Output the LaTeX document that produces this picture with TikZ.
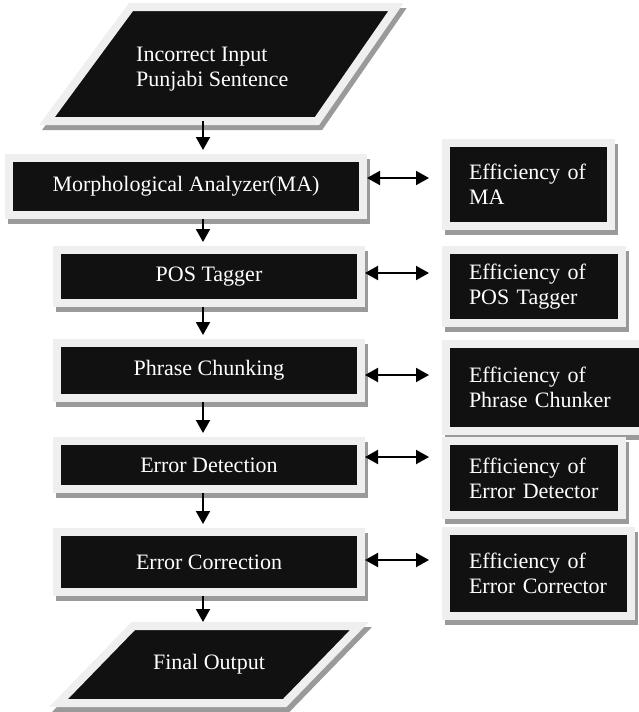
\documentclass[tikz,border=0pt]{standalone}
\usepackage{fontspec}
\setmainfont{Liberation Serif}
\usetikzlibrary{arrows.meta,shadows,calc}
\definecolor{boxblack}{HTML}{111111}
\definecolor{framegray}{HTML}{EFEFEF}
\definecolor{shadowgray}{HTML}{9A9A9A}
\begin{document}
\begin{tikzpicture}[x=1pt,y=-1pt,
  >={Triangle[length=13pt,width=14pt]},
  every node/.style={font=\fontsize{22}{25}\selectfont, text=white},
  panel/.style={draw=framegray, line width=8pt, fill=boxblack, inner sep=0pt,
    drop shadow={shadow xshift=3pt, shadow yshift=-5pt, opacity=1,
      fill=shadowgray, draw=shadowgray, line width=8pt}},
  stage/.style={panel, minimum width=304pt},
  gauge/.style={panel, align=left},
  flow/.style={line width=2pt, ->, shorten >=4pt},
  biflow/.style={line width=2pt, <->, shorten >=13pt}]

\useasboundingbox (0,0) rectangle (639,712);
\clip (0,0) rectangle (639,712);

% vertical spine of the main flow
\coordinate (spine) at (203,0);

% input parallelogram
\path[panel] (131,7) -- (396,7) -- (317,121) -- (47,121) -- cycle;
\node[anchor=west, align=left, inner sep=0pt] (input) at (136,69)
  {Incorrect Input\\Punjabi Sentence};
\coordinate (inbase) at (203,121);

% processing stages and their efficiency blocks
\node[panel, minimum width=354pt, minimum height=57pt] (ma) at (186,186.5)
  {Morphological Analyzer(MA)};
\node[gauge, minimum width=165pt, minimum height=83pt, text width=119pt] (effma)
  at (528.5,184.5) {Efficiency of\\MA};

\node[stage, minimum height=53pt] (pos) at (209,276.5) {POS Tagger};
\node[gauge, minimum width=176pt, minimum height=73pt, text width=130pt] (effpos)
  at (534,286.5) {Efficiency of\\POS Tagger};

\node[stage, minimum height=55pt] (chunk) at (209,370.5) {Phrase Chunking};
\node[gauge, minimum width=208pt, minimum height=87pt, text width=162pt] (effchunk)
  at (550,387.5) {Efficiency of\\Phrase Chunker};

\node[stage, minimum height=48pt] (detect) at (209,465) {Error Detection};
\node[gauge, minimum width=176pt, minimum height=74pt, text width=130pt] (effdetect)
  at (534,478) {Efficiency of\\Error Detector};

\node[stage, minimum height=60pt] (correct) at (209,562) {Error Correction};
\node[gauge, minimum width=185pt, minimum height=85pt, text width=139pt] (effcorrect)
  at (538.5,573.5) {Efficiency of\\Error Corrector};

% output parallelogram
\path[panel] (133.3,626) -- (359.5,626) -- (284.7,703) -- (58.5,703) -- cycle;
\node (output) at (209,664.5) {Final Output};
\coordinate (outtop) at (203,626);

% main flow arrows
\draw[flow] (inbase) -- (spine |- ma.north);
\draw[flow] (spine |- ma.south) -- (spine |- pos.north);
\draw[flow] (spine |- pos.south) -- (spine |- chunk.north);
\draw[flow] (spine |- chunk.south) -- (spine |- detect.north);
\draw[flow] (spine |- detect.south) -- (spine |- correct.north);
\draw[flow] (spine |- correct.south) -- (outtop);

% two-way links to the efficiency blocks
\draw[biflow] ([yshift=8.5pt]ma.east) -- ([yshift=8.5pt]ma.east -| effma.west);
\draw[biflow] ([yshift=3.5pt]pos.east) -- ([yshift=3.5pt]pos.east -| effpos.west);
\draw[biflow] ([yshift=-4.5pt]chunk.east) -- ([yshift=-4.5pt]chunk.east -| effchunk.west);
\draw[biflow] ([yshift=8pt]detect.east) -- ([yshift=8pt]detect.east -| effdetect.west);
\draw[biflow] ([yshift=2pt]correct.east) -- ([yshift=2pt]correct.east -| effcorrect.west);
\end{tikzpicture}
\end{document}
